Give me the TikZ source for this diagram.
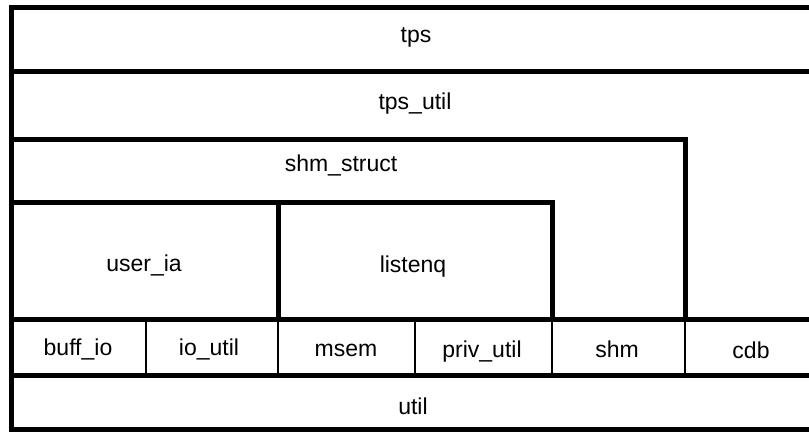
\documentclass[tikz,border=0pt]{standalone}
\usepackage{fontspec}
\setmainfont{Liberation Sans}
\begin{document}
\begin{tikzpicture}[x=0.5pt, y=-0.5pt,
    layer/.style={draw=black, line width=2.5pt},
    cell/.style={draw=black, line width=1.1pt},
    modname/.style={font=\fontsize{11.5}{14}\selectfont, inner sep=0pt, anchor=base}
]
\useasboundingbox (0,0) rectangle (809,437);
\clip (0,0) rectangle (809,437);
% thin dividers of the bottom row
\foreach \x in {146,278,415,552,685}
    \draw [cell] (\x,320) -- (\x,375);
% layers
\draw [layer] (830,8) -- (11,8) -- (11,430) -- (830,430);
\draw [layer] (11,72) -- (830,72);
\draw [layer] (11,140) -- (685,140) -- (685,320);
\draw [layer] (11,203) -- (552,203) -- (552,320);
\draw [layer] (278,203) -- (278,320);
\draw [layer] (11,320) -- (830,320);
\draw [layer] (11,376) -- (830,376);
% labels
\node (tps) [modname] at (416,43) {tps};
\node (tpsutil) [modname] at (415,110) {tps\_util};
\node (shmstruct) [modname] at (341,172) {shm\_struct};
\node (useria) [modname] at (144,272) {user\_ia};
\node (listenq) [modname] at (413,273) {listenq};
\node (buffio) [modname] at (78,356) {buff\_io};
\node (ioutil) [modname] at (209,356) {io\_util};
\node (msem) [modname] at (346,357) {msem};
\node (privutil) [modname] at (482,358) {priv\_util};
\node (shm) [modname] at (617,358) {shm};
\node (cdb) [modname] at (751,359) {cdb};
\node (util) [modname] at (413,415) {util};
\end{tikzpicture}
\end{document}
